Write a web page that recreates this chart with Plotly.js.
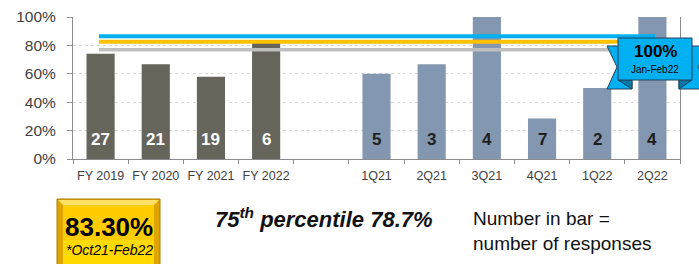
<!DOCTYPE html>
<html>
<head>
<meta charset="utf-8">
<script src="https://cdn.plot.ly/plotly-3.0.1.min.js"></script>
<style>html,body{margin:0;padding:0;background:#fff;}#chart{width:699px;height:264px;}</style>
</head>
<body>
<div id="chart"></div>
<script>
// ---- data ----
var fyCategories = ['FY 2019', 'FY 2020', 'FY 2021', 'FY 2022'];
var fyValues = [74.1, 66.7, 57.9, 83.3];
var fyResponses = [27, 21, 19, 6];
var qCategories = ['1Q21', '2Q21', '3Q21', '4Q21', '1Q22', '2Q22'];
var qValues = [60, 66.7, 100, 28.6, 50, 100];
var qResponses = [5, 3, 4, 7, 2, 4];
var gapCategory = ' ';
var allCategories = fyCategories.concat([gapCategory], qCategories);
var lineNames = ['blue', 'orange', 'grey'];
var lineValues = [86.5, 82.5, 77];
var yTicks = [0, 20, 40, 60, 80, 100];
var ribbonValue = '100%';
var ribbonPeriod = 'Jan-Feb22';
var boxValue = '83.30%';
var boxPeriod = '*Oct21-Feb22';
var percentileText = '75<sup>th</sup> percentile 78.7%';
var noteText = 'Number in bar =<br>number of responses';

// ---- geometry helpers (pixel -> paper) ----
var L = 73, R = 680, T = 17, B = 159;
function px(x) { return (x - L) / (R - L); }
function py(y) { return (B - y) / (B - T); }
function path(pts) {
  return 'M' + pts.map(function (p) { return px(p[0]).toFixed(5) + ',' + py(p[1]).toFixed(5); }).join(' L') + ' Z';
}

var FONT = 'Liberation Sans, Arial, sans-serif';

var traces = [
  { type: 'bar', x: fyCategories, y: fyValues, marker: { color: '#66655b' }, hoverinfo: 'none', showlegend: false },
  { type: 'bar', x: qCategories, y: qValues, marker: { color: '#8497b0' }, hoverinfo: 'none', showlegend: false }
];

var lineColors = { blue: '#00b0f0', orange: '#ffc000', grey: '#bfbfbf' };
var lineEnds = { blue: 655, orange: 625, grey: 612 };
var lineWidths = { blue: 4, orange: 4, grey: 3.5 };

var shapes = [];
lineNames.forEach(function (n, i) {
  shapes.push({ type: 'line', xref: 'paper', yref: 'y', x0: px(99), x1: px(lineEnds[n]), y0: lineValues[i], y1: lineValues[i],
    line: { color: lineColors[n], width: lineWidths[n] }, layer: 'above' });
});

// ribbon
var rib = '#00b0f0', ribDark = '#0078a8', ribLine = '#24425e';
shapes.push({ type: 'path', xref: 'paper', yref: 'paper', path: path([[607,46],[632,46],[632,89],[607,89],[617,67]]), fillcolor: rib, line: { color: ribLine, width: 1 }, layer: 'above' });
shapes.push({ type: 'path', xref: 'paper', yref: 'paper', path: path([[679,46],[710,46],[698,67],[710,89],[679,89]]), fillcolor: rib, line: { color: ribLine, width: 1 }, layer: 'above' });
shapes.push({ type: 'path', xref: 'paper', yref: 'paper', path: path([[618,80],[632,89],[632,80]]), fillcolor: ribDark, line: { color: ribLine, width: 1 }, layer: 'above' });
shapes.push({ type: 'path', xref: 'paper', yref: 'paper', path: path([[692,80],[679,89],[679,80]]), fillcolor: ribDark, line: { color: ribLine, width: 1 }, layer: 'above' });
shapes.push({ type: 'rect', xref: 'paper', yref: 'paper', x0: px(618), x1: px(692), y0: py(38), y1: py(80), fillcolor: rib, line: { color: ribLine, width: 1 }, layer: 'above' });

// yellow box
shapes.push({ type: 'rect', xref: 'paper', yref: 'paper', x0: px(57), x1: px(160), y0: py(199), y1: py(270), fillcolor: '#e0a400', line: { color: '#a87c00', width: 1 }, layer: 'above' });
shapes.push({ type: 'path', xref: 'paper', yref: 'paper', path: path([[58,200],[159,200],[154,205],[63,205]]), fillcolor: '#ffe066', line: { width: 0 }, layer: 'above' });
shapes.push({ type: 'rect', xref: 'paper', yref: 'paper', x0: px(63), x1: px(154), y0: py(205), y1: py(270), fillcolor: '#ffcc00', line: { width: 0 }, layer: 'above' });
shapes.push({ type: 'rect', xref: 'paper', yref: 'paper', x0: px(63), x1: px(154), y0: py(240), y1: py(270), fillcolor: '#ffd900', line: { width: 0 }, layer: 'above' });

var annotations = [];
fyCategories.forEach(function (c, i) {
  annotations.push({ x: c, y: 13.5, xref: 'x', yref: 'y', text: '<b>' + fyResponses[i] + '</b>', showarrow: false,
    font: { family: FONT, size: 17, color: '#ffffff' }, xanchor: 'center', yanchor: 'middle' });
});
qCategories.forEach(function (c, i) {
  annotations.push({ x: c, y: 13.5, xref: 'x', yref: 'y', text: '<b>' + qResponses[i] + '</b>', showarrow: false,
    font: { family: FONT, size: 17, color: '#1e1e1e' }, xanchor: 'center', yanchor: 'middle' });
});
annotations.push({ xref: 'paper', yref: 'paper', x: px(655), y: py(51), text: '<b>' + ribbonValue + '</b>', showarrow: false,
  font: { family: FONT, size: 17, color: '#000' }, xanchor: 'center', yanchor: 'middle' });
annotations.push({ xref: 'paper', yref: 'paper', x: px(655), y: py(69), text: ribbonPeriod, showarrow: false,
  font: { family: FONT, size: 10, color: '#000' }, xanchor: 'center', yanchor: 'middle' });
annotations.push({ xref: 'paper', yref: 'paper', x: px(108.5), y: py(227), text: '<b>' + boxValue + '</b>', showarrow: false,
  font: { family: FONT, size: 26, color: '#000' }, xanchor: 'center', yanchor: 'middle' });
annotations.push({ xref: 'paper', yref: 'paper', x: px(109), y: py(250), text: '<i>' + boxPeriod + '</i>', showarrow: false,
  font: { family: FONT, size: 14, color: '#000' }, xanchor: 'center', yanchor: 'middle' });
annotations.push({ xref: 'paper', yref: 'paper', x: px(213), y: py(218), text: '<b><i>' + percentileText + '</i></b>', showarrow: false,
  font: { family: FONT, size: 22, color: '#111' }, xanchor: 'left', yanchor: 'middle' });
annotations.push({ xref: 'paper', yref: 'paper', x: px(471), y: py(230.5), text: noteText, showarrow: false, align: 'left',
  font: { family: FONT, size: 19, color: '#111' }, xanchor: 'left', yanchor: 'middle' });

var layout = {
  width: 699, height: 264,
  margin: { l: L, r: 699 - R, t: T, b: 264 - B, pad: 0 },
  paper_bgcolor: '#ffffff', plot_bgcolor: '#ffffff',
  barmode: 'overlay', bargap: 0.49,
  showlegend: false,
  xaxis: {
    type: 'category', categoryorder: 'array', categoryarray: allCategories,
    tickson: 'boundaries', ticks: 'outside', ticklen: 4, tickcolor: '#8c8c8c', tickangle: 0,
    showline: true, linecolor: '#8c8c8c', linewidth: 1, showgrid: false, zeroline: false,
    tickfont: { family: FONT, size: 12.5, color: '#404040' }, ticklabelstandoff: 5,
    range: [-0.5, allCategories.length - 0.5], fixedrange: true, automargin: false
  },
  yaxis: {
    range: [0, 100], tickvals: yTicks, ticktext: yTicks.map(function (v) { return v + '%'; }),
    ticks: 'outside', ticklen: 5, tickcolor: '#8c8c8c',
    showline: true, linecolor: '#8c8c8c', linewidth: 1, mirror: true,
    showgrid: true, gridcolor: '#d9d9d9', griddash: 'dot', gridwidth: 1, zeroline: false,
    tickfont: { family: FONT, size: 15.5, color: '#404040' }, ticklabelstandoff: 8, fixedrange: true, automargin: false
  },
  shapes: shapes,
  annotations: annotations
};

Plotly.newPlot('chart', traces, layout, { displayModeBar: false, staticPlot: true });
</script>
</body>
</html>
